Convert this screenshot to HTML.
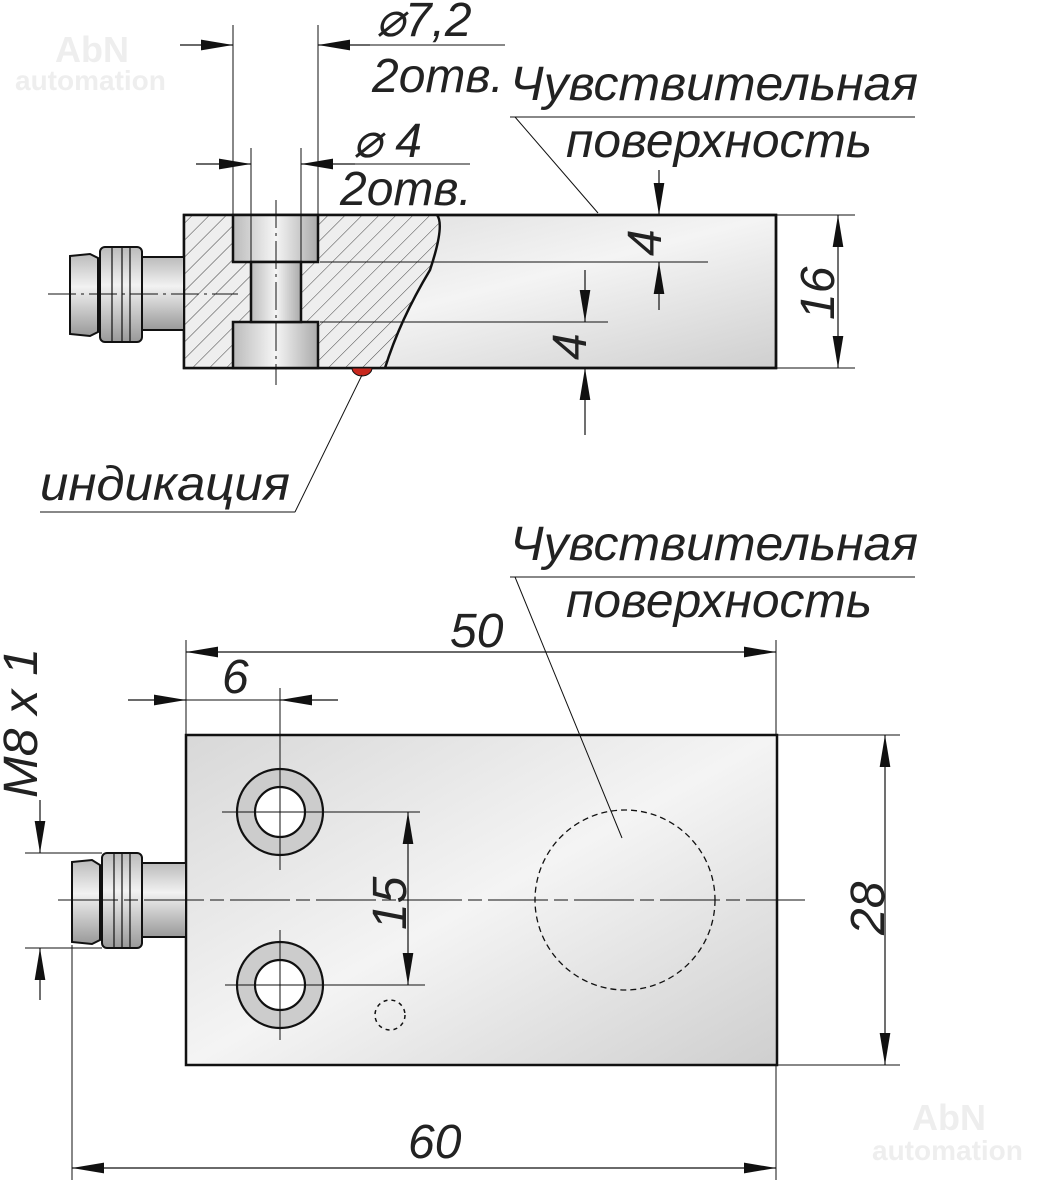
<!DOCTYPE html><html><head><meta charset="utf-8"><style>body{margin:0;background:#fff}svg{display:block}text{font-family:"Liberation Sans",sans-serif;font-style:italic;fill:#222}</style></head><body>
<svg width="1039" height="1187" viewBox="0 0 1039 1187">
<defs>
<linearGradient id="g" x1="0" y1="0" x2="1" y2="1"><stop offset="0" stop-color="#d8d8d8"/><stop offset=".5" stop-color="#f4f4f4"/><stop offset="1" stop-color="#cfcfcf"/></linearGradient>
<linearGradient id="gv" x1="0" y1="0" x2="0" y2="1"><stop offset="0" stop-color="#bbb"/><stop offset=".4" stop-color="#f2f2f2"/><stop offset="1" stop-color="#999"/></linearGradient>
<linearGradient id="gh" x1="0" y1="0" x2="1" y2="0"><stop offset="0" stop-color="#bbb"/><stop offset=".5" stop-color="#f5f5f5"/><stop offset="1" stop-color="#aaa"/></linearGradient>
<pattern id="h" width="12" height="12" patternUnits="userSpaceOnUse" patternTransform="rotate(45)"><rect width="12" height="12" fill="#eee"/><line x1="0" y1="0" x2="0" y2="12" stroke="#444" stroke-width="1"/></pattern>
<marker id="a" viewBox="0 0 30 10" refX="30" refY="5" markerWidth="32" markerHeight="11" markerUnits="userSpaceOnUse" orient="auto-start-reverse"><path d="M0,0L30,5L0,10z" fill="#111"/></marker>
</defs>
<text x="55" y="62" font-size="36" style="fill:#eee;font-style:normal;font-weight:bold">AbN</text><text x="15" y="90" font-size="28" style="fill:#eee;font-style:normal;font-weight:bold">automation</text>
<text x="912" y="1130" font-size="36" style="fill:#eee;font-style:normal;font-weight:bold">AbN</text><text x="872" y="1160" font-size="28" style="fill:#eee;font-style:normal;font-weight:bold">automation</text>

<!-- TOP VIEW -->
<rect x="184" y="215" width="592" height="153" fill="url(#g)" stroke="#111" stroke-width="2.5"/>
<path d="M184,215 L437,215 Q445,225 430,270 Q400,320 385,368 L184,368z" fill="url(#h)" stroke="none"/>
<path d="M437,215 Q445,225 430,270 Q400,320 385,368" fill="none" stroke="#111" stroke-width="2.5"/>
<rect x="184" y="215" width="592" height="153" fill="none" stroke="#111" stroke-width="2.5"/>
<rect x="233" y="215" width="85" height="47" fill="url(#gh)" stroke="#111" stroke-width="2.5"/>
<rect x="233" y="322" width="85" height="46" fill="url(#gh)" stroke="#111" stroke-width="2.5"/>
<rect x="251" y="262" width="50" height="60" fill="url(#gh)" stroke="#111" stroke-width="2.5"/>
<path d="M352,368 A10,8 0 0 0 372,368z" fill="#c8281e" stroke="#111"/>
<rect x="142" y="257" width="42" height="73" fill="url(#gv)" stroke="#111" stroke-width="2"/>
<rect x="100" y="247" width="42" height="95" rx="5" fill="url(#gv)" stroke="#111" stroke-width="2"/>
<path d="M112,248V341M122,248V341M130,248V341" stroke="#111" stroke-width="1.2"/>
<path d="M70,256 L90,254 L98,258 L98,332 L90,336 L70,334z" fill="url(#gv)" stroke="#111" stroke-width="2"/>
<g stroke="#111" stroke-width="1" fill="none">
<path d="M48,294H238" stroke-dasharray="28,5,3,5"/>
<path d="M276,200V385" stroke-dasharray="28,5,3,5"/>
<path d="M233,25V215M318,25V215M251,148V262M301,148V262"/>
<path d="M180,45H233M318,45H505" /><path d="M196,164H251M301,164H470"/>
<path d="M320,262H708M320,322H608M776,215H855M776,368H855"/>
<path d="M510,117H915M515,117L598,213M40,512H295M295,512L362,375"/>
</g>
<g stroke="#111" stroke-width="1.2" marker-end="url(#a)">
<line x1="180" y1="45" x2="233" y2="45"/><line x1="370" y1="45" x2="318" y2="45"/>
<line x1="196" y1="164" x2="251" y2="164"/><line x1="355" y1="164" x2="301" y2="164"/>
<line x1="659" y1="170" x2="659" y2="215"/><line x1="659" y1="310" x2="659" y2="262"/>
<line x1="585" y1="270" x2="585" y2="322"/><line x1="585" y1="435" x2="585" y2="368"/>
<line x1="838" y1="291" x2="838" y2="215"/><line x1="838" y1="291" x2="838" y2="368"/>
</g>
<g font-size="48">
<text x="376" y="36">⌀7,2</text><text x="372" y="92">2отв.</text>
<text x="353" y="157">⌀ 4</text><text x="340" y="205">2отв.</text>
<text x="510" y="100" textLength="408" lengthAdjust="spacingAndGlyphs">Чувствительная</text><text x="566" y="157" textLength="306" lengthAdjust="spacingAndGlyphs">поверхность</text>
<text x="40" y="500" textLength="250" lengthAdjust="spacingAndGlyphs">индикация</text>
<text transform="translate(661,256) rotate(-90)">4</text>
<text transform="translate(586,360) rotate(-90)">4</text>
<text transform="translate(834,320) rotate(-90)">16</text>
</g>

<!-- BOTTOM VIEW -->
<rect x="186" y="735" width="591" height="330" fill="url(#g)" stroke="#111" stroke-width="2.5"/>
<g stroke="#111" stroke-width="2.2"><circle cx="280" cy="812" r="43" fill="#ccc"/><circle cx="280" cy="812" r="25" fill="#fff"/>
<circle cx="280" cy="985" r="43" fill="#ccc"/><circle cx="280" cy="985" r="25" fill="#fff"/></g>
<circle cx="625" cy="900" r="90" fill="none" stroke="#111" stroke-width="1.3" stroke-dasharray="6,4"/>
<circle cx="390" cy="1015" r="15" fill="none" stroke="#111" stroke-width="1.5" stroke-dasharray="4,4"/>
<rect x="142" y="863" width="44" height="74" fill="url(#gv)" stroke="#111" stroke-width="2"/>
<rect x="102" y="853" width="40" height="95" rx="5" fill="url(#gv)" stroke="#111" stroke-width="2"/>
<path d="M114,854V947M122,854V947M130,854V947" stroke="#111" stroke-width="1.2"/>
<path d="M72,862 L92,860 L100,865 L100,940 L92,944 L72,942z" fill="url(#gv)" stroke="#111" stroke-width="2"/>
<g stroke="#111" stroke-width="1" fill="none">
<path d="M58,900H805" stroke-dasharray="60,6,14,6"/>
<path d="M280,688V870M280,930V1040"/>
<path d="M222,812H420M225,985H425"/>
<path d="M186,640V735M776,640V735M777,735H900M777,1065H900"/>
<path d="M72,945V1180M776,1065V1180"/>
<path d="M25,853H102M25,948H102"/>
<path d="M510,577H915M515,577L622,838"/>
<path d="M128,700H338"/>
</g>
<g stroke="#111" stroke-width="1.2" marker-end="url(#a)">
<line x1="480" y1="652" x2="186" y2="652"/><line x1="480" y1="652" x2="776" y2="652"/>
<line x1="128" y1="700" x2="186" y2="700"/><line x1="338" y1="700" x2="280" y2="700"/>
<line x1="408" y1="900" x2="408" y2="812"/><line x1="408" y1="900" x2="408" y2="985"/>
<line x1="885" y1="900" x2="885" y2="735"/><line x1="885" y1="900" x2="885" y2="1065"/>
<line x1="420" y1="1168" x2="72" y2="1168"/><line x1="420" y1="1168" x2="776" y2="1168"/>
<line x1="40" y1="800" x2="40" y2="853"/><line x1="40" y1="1000" x2="40" y2="948"/>
</g>
<g font-size="48">
<text x="510" y="560" textLength="408" lengthAdjust="spacingAndGlyphs">Чувствительная</text><text x="566" y="617" textLength="306" lengthAdjust="spacingAndGlyphs">поверхность</text>
<text x="450" y="647">50</text><text x="222" y="693">6</text><text x="408" y="1158">60</text>
<text transform="translate(406,930) rotate(-90)">15</text>
<text transform="translate(884,935) rotate(-90)">28</text>
<text transform="translate(37,798) rotate(-90)" textLength="150" lengthAdjust="spacingAndGlyphs">M8 x 1</text>
</g>
</svg></body></html>
